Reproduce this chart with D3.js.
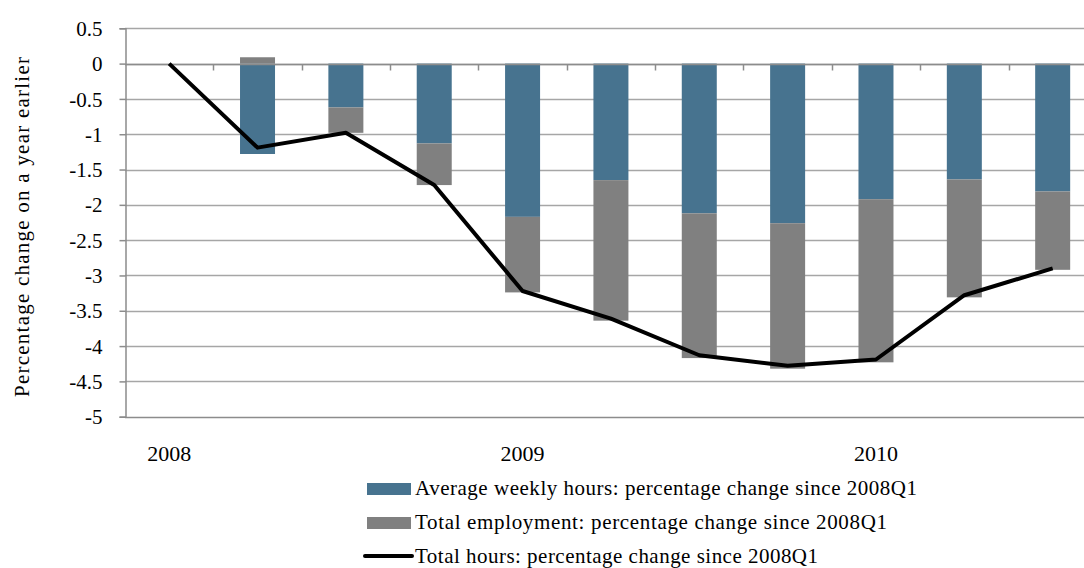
<!DOCTYPE html>
<html><head><meta charset="utf-8">
<script src="https://cdn.jsdelivr.net/npm/d3@7"></script>
<style>body{margin:0;background:#fff}svg{display:block}text{font-family:"Liberation Serif","DejaVu Serif",serif;fill:#000}</style>
</head><body><svg id="c" width="1084" height="568"></svg>
<script>
const quarters = ["2008Q1","2008Q2","2008Q3","2008Q4","2009Q1","2009Q2","2009Q3","2009Q4","2010Q1","2010Q2","2010Q3"];
const avgHours = [0, -1.28, -0.62, -1.13, -2.17, -1.65, -2.12, -2.26, -1.92, -1.64, -1.81];
const employment = [0, 0.09, -0.36, -0.59, -1.07, -1.99, -2.05, -2.06, -2.31, -1.67, -1.11];
const totalHours = [0, -1.19, -0.98, -1.72, -3.22, -3.61, -4.13, -4.28, -4.19, -3.28, -2.90];
const yearLabels = [{q:"2008Q1", t:"2008"},{q:"2009Q1", t:"2009"},{q:"2010Q1", t:"2010"}];
const yTicks = [0.5,0,-0.5,-1,-1.5,-2,-2.5,-3,-3.5,-4,-4.5,-5];
const legendLabels = ["Average weekly hours: percentage change since 2008Q1","Total employment: percentage change since 2008Q1","Total hours: percentage change since 2008Q1"];
const yTitle = "Percentage change on a year earlier";
const colBlue = "#47738f", colGray = "#808080";

const svg = d3.select("#c");
const x = d3.scaleBand().domain(quarters).range([125, 125 + 11*88.35]).padding(0);
const y = d3.scaleLinear().domain([-5, 0.5]).range([416.7, 28.3]);
const bw = 35;

// gridlines
svg.append("g").selectAll("line").data(yTicks).join("line")
  .attr("x1", 125).attr("x2", 1084).attr("y1", d=>Math.round(y(d))+0.5).attr("y2", d=>Math.round(y(d))+0.5)
  .attr("stroke", d => d===-5 ? "#8c8c8c" : "#a6a6a6").attr("stroke-width", 1.5);

// left axis
const yAxis = d3.axisLeft(y).tickValues(yTicks).tickSize(6).tickFormat(d => String(d));
const gy = svg.append("g").attr("transform","translate(125.5,0)").call(yAxis);
gy.attr("font-family", null).attr("font-size", null);
gy.select(".domain").attr("stroke","#8c8c8c").attr("stroke-width",1.5);
gy.selectAll(".tick line").attr("stroke","#8c8c8c").attr("stroke-width",1.5);
gy.selectAll(".tick text").attr("x",-23).attr("dy","0.34em")
  .style("font-family",'"Liberation Serif", serif').style("font-size","21px").attr("fill","#000");

// bars
svg.append("g").selectAll("rect").data(quarters).join("rect")
  .attr("x", d => x(d) + x.bandwidth()/2 - bw/2).attr("width", bw)
  .attr("y", (d,i) => y(0)).attr("height", (d,i) => y(avgHours[i]) - y(0))
  .attr("fill", colBlue);
svg.append("g").selectAll("rect").data(quarters).join("rect")
  .attr("x", d => x(d) + x.bandwidth()/2 - bw/2).attr("width", bw)
  .attr("y", (d,i) => employment[i] >= 0 ? y(employment[i]) : y(avgHours[i]))
  .attr("height", (d,i) => employment[i] >= 0 ? y(0) - y(employment[i]) : y(avgHours[i] + employment[i]) - y(avgHours[i]))
  .attr("fill", colGray);

// x axis at zero
const gx = svg.append("g").attr("transform", `translate(0,${Math.round(y(0))+0.5})`);
gx.append("line").attr("x1",125).attr("x2",1084).attr("stroke","#8c8c8c").attr("stroke-width",1.5);
const bounds = quarters.map(q => x(q)).concat([x(quarters[10]) + x.bandwidth()]);
gx.selectAll(".tk").data(bounds.slice(1)).join("line").attr("class","tk")
  .attr("x1", d=>Math.round(d)+0.5).attr("x2", d=>Math.round(d)+0.5).attr("y1",0).attr("y2",6)
  .attr("stroke","#8c8c8c").attr("stroke-width",1.5);

// line
const line = d3.line().x((d,i) => x(quarters[i]) + x.bandwidth()/2).y(d => y(d));
svg.append("path").datum(totalHours).attr("d", line).attr("fill","none").attr("stroke","#000").attr("stroke-width",4).attr("stroke-linejoin","round");

// year labels
svg.append("g").selectAll("text").data(yearLabels).join("text")
  .attr("x", d => x(d.q) + x.bandwidth()/2).attr("y", 461).attr("text-anchor","middle").attr("font-size",22).text(d=>d.t);

// y title
svg.append("text").attr("transform","translate(29,227) rotate(-90)").attr("text-anchor","middle").attr("font-size",21)
  .attr("textLength",340).attr("lengthAdjust","spacing").text(yTitle);

// legend
const lg = svg.append("g");
const ly = [495, 529, 563];
legendLabels.forEach((t,i) => {
  if (i < 2) lg.append("rect").attr("x",367).attr("y",ly[i]-12).attr("width",44).attr("height",12).attr("fill", i===0?colBlue:colGray);
  else lg.append("line").attr("x1",365).attr("x2",412).attr("y1",ly[i]-7).attr("y2",ly[i]-7).attr("stroke","#000").attr("stroke-width",4).attr("stroke-linecap","round");
  const tl = [502, 472, 403][i];
  lg.append("text").attr("x",415).attr("y",ly[i]).attr("font-size",21).attr("textLength",tl).attr("lengthAdjust","spacing").text(t);
});
</script></body></html>
